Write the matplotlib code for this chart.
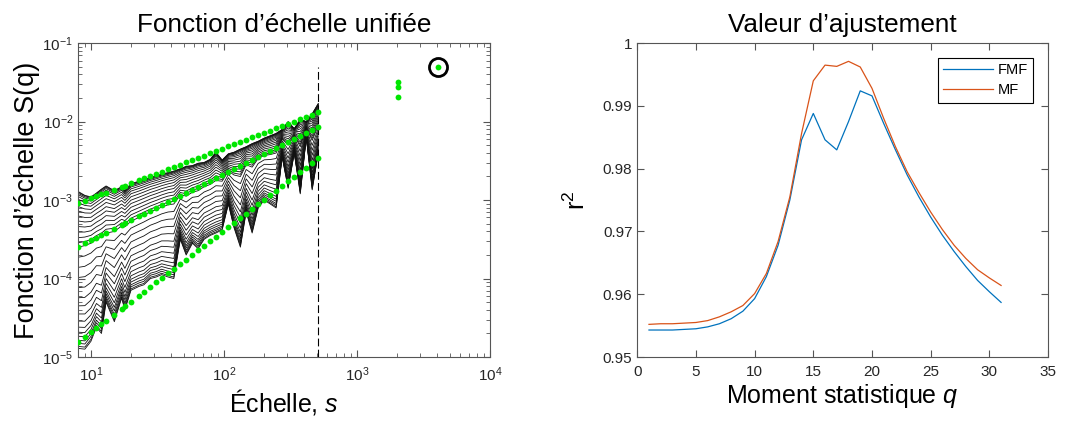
import numpy as np
import matplotlib
matplotlib.use("Agg")
from matplotlib import pyplot as plt

plt.rcParams['font.family'] = ['Liberation Sans', 'DejaVu Sans']
plt.rcParams['mathtext.fontset'] = 'custom'
plt.rcParams['mathtext.rm'] = 'Liberation Sans'
plt.rcParams['mathtext.it'] = 'Liberation Sans:italic'
plt.rcParams['mathtext.default'] = 'regular'

# ---- left panel data: scales and three reference q curves (log10 F) ----
scales = [8, 9, 10, 11, 12, 13, 15, 17, 18, 20, 23, 25, 28, 31, 34, 38, 42, 47, 52, 58,
          64, 71, 79, 87, 97, 108, 119, 133, 147, 163, 181, 201, 223, 247, 274, 304,
          338, 375, 416, 461, 512]

# highest q (top of the bundle)
logF_top = [-2.89, -2.94, -2.96, -2.91, -2.86, -2.82, -2.88, -2.83, -2.88, -2.79,
            -2.76, -2.74, -2.71, -2.69, -2.67, -2.65, -2.63, -2.60, -2.57, -2.56,
            -2.53, -2.52, -2.48, -2.39, -2.49, -2.41, -2.39, -2.35, -2.32, -2.28,
            -2.25, -2.21, -2.18, -2.15, -2.10, -2.00, -2.09, -1.97, -2.00, -1.90, -1.77]

# q = 0 (middle of the bundle)
logF_mid = [-3.60, -3.58, -3.55, -3.50, -3.47, -3.42, -3.40, -3.33, -3.34, -3.27,
            -3.22, -3.19, -3.15, -3.12, -3.09, -3.06, -3.05, -2.93, -2.95, -2.90,
            -2.88, -2.83, -2.80, -2.75, -2.76, -2.63, -2.68, -2.70, -2.55, -2.58,
            -2.47, -2.43, -2.42, -2.40, -2.22, -2.30, -2.18, -2.32, -2.08, -2.24, -2.05]

# lowest q (bottom of the bundle)
logF_bot = [-4.89, -4.90, -4.80, -4.62, -4.70, -4.30, -4.55, -4.25, -4.40, -4.15,
            -4.10, -4.08, -4.00, -3.98, -3.95, -3.98, -4.00, -3.50, -3.70, -3.55,
            -3.62, -3.50, -3.45, -3.42, -3.38, -3.05, -3.35, -3.60, -3.15, -3.42,
            -3.10, -3.00, -3.05, -3.10, -2.45, -2.85, -2.40, -2.92, -2.20, -2.87, -2.40]

# position of the remaining q curves, from the q = 0 curve towards each extreme
upper_pos = [0.08, 0.17, 0.27, 0.37, 0.47, 0.56, 0.65, 0.73, 0.80, 0.86, 0.91,
             0.945, 0.97, 0.99, 1.0]
lower_pos = [0.1, 0.2, 0.3, 0.4, 0.5, 0.58, 0.66, 0.73, 0.79, 0.84, 0.88, 0.92,
             0.95, 0.98, 1.0]

# regression lines (log10 F = a*log10 s + b) for q max, q = 0, q min
fit_coeffs = [(0.641, -3.620), (0.844, -4.357), (1.298, -5.985)]

# extrapolated points and the selected point
far_scale = [2048, 2048, 2048]
far_F = [0.0318, 0.0274, 0.0206]
sel_scale = 4096
sel_F = 0.0499
cut_scale = 512

# ---- right panel data ----
q_index = list(range(1, 32))
r2_fmf = [0.9543, 0.9543, 0.9543, 0.9544, 0.9545, 0.9548, 0.9553, 0.9561, 0.9573, 0.9593,
          0.9628, 0.9678, 0.9750, 0.9846, 0.9888, 0.9846, 0.9830, 0.9875, 0.9924, 0.9916,
          0.9872, 0.9830, 0.9790, 0.9755, 0.9723, 0.9694, 0.9668, 0.9644, 0.9622, 0.9604,
          0.9587]
r2_mf = [0.9552, 0.9553, 0.9553, 0.9554, 0.9555, 0.9558, 0.9564, 0.9572, 0.9582, 0.9601,
         0.9633, 0.9684, 0.9755, 0.9856, 0.9940, 0.9965, 0.9963, 0.9971, 0.9962, 0.9928,
         0.9880, 0.9835, 0.9795, 0.9762, 0.9731, 0.9703, 0.9678, 0.9657, 0.9639, 0.9626,
         0.9614]

GREEN = '#00e600'
AXC = '#555555'
TXT = '#262626'

fig = plt.figure(figsize=(10.81, 4.23), dpi=100)
ax1 = fig.add_axes([0.0722, 0.156, 0.381, 0.742])
ax2 = fig.add_axes([0.5895, 0.156, 0.380, 0.742])

s = np.array(scales, dtype=float)
top = np.array(logF_top)
mid = np.array(logF_mid)
bot = np.array(logF_bot)
curves = [mid]
curves += [mid + t * (top - mid) for t in upper_pos]
curves += [mid + t * (bot - mid) for t in lower_pos]
for c in curves:
    ax1.plot(s, 10 ** c, color='#111111', lw=0.6, zorder=2)

for a, b in fit_coeffs:
    ax1.plot(s, 10 ** np.polyval([a, b], np.log10(s)), 'o', color=GREEN,
             ms=4.2, mew=0, zorder=4)
ax1.plot(far_scale, far_F, 'o', color=GREEN, ms=4.2, mew=0, zorder=4)
ax1.plot(sel_scale, sel_F, 'o', color=GREEN, ms=4.2, mew=0, zorder=4)
ax1.plot(sel_scale, sel_F, 'o', mfc='none', mec='k', ms=13, mew=2, zorder=5)
ax1.plot([cut_scale, cut_scale], [1e-5, sel_F], color='k', lw=0.8,
         dashes=(7, 3), zorder=3)

ax1.set_xscale('log')
ax1.set_yscale('log')
ax1.set_xlim(8, 1e4)
ax1.set_ylim(1e-5, 1e-1)
ax1.set_title("Fonction d’échelle unifiée", fontsize=18.8, pad=8)
ax1.set_xlabel("Échelle, $\\mathit{s}$", fontsize=18, labelpad=2)
ax1.set_ylabel("Fonction d’échelle S(q)", fontsize=19.5, labelpad=2)

ax2.plot(q_index, r2_fmf, color='#0072BD', lw=0.9, label='FMF')
ax2.plot(q_index, r2_mf, color='#D95319', lw=0.9, label='MF')
ax2.set_xlim(0, 35)
ax2.set_ylim(0.95, 1.0)
ax2.set_xticks(range(0, 36, 5))
yt = [0.95, 0.96, 0.97, 0.98, 0.99, 1.0]
ax2.set_yticks(yt)
ax2.set_yticklabels(['%g' % v for v in yt])
ax2.set_title("Valeur d’ajustement", fontsize=18.8, pad=8)
ax2.set_xlabel("Moment statistique $\\mathit{q}$", fontsize=18, labelpad=2)
ax2.set_ylabel("r$^2$", fontsize=18, labelpad=9)
leg = ax2.legend(loc='upper right', fontsize=10.5, handlelength=3.4,
                 handletextpad=0.35, borderpad=0.35, labelspacing=0.45,
                 fancybox=False, framealpha=1, borderaxespad=1.0)
leg.get_frame().set_edgecolor('k')
leg.get_frame().set_linewidth(0.8)

for ax in (ax1, ax2):
    ax.tick_params(which='both', direction='in', top=True, right=True,
                   labelsize=11, colors=AXC, labelcolor=TXT)
    ax.tick_params(which='major', length=5)
    ax.tick_params(which='minor', length=3)
    ax.tick_params(axis='x', which='major', pad=6)
    for sp in ax.spines.values():
        sp.set_color(AXC)
        sp.set_linewidth(0.8)

fig.savefig('out.png', dpi=100)
